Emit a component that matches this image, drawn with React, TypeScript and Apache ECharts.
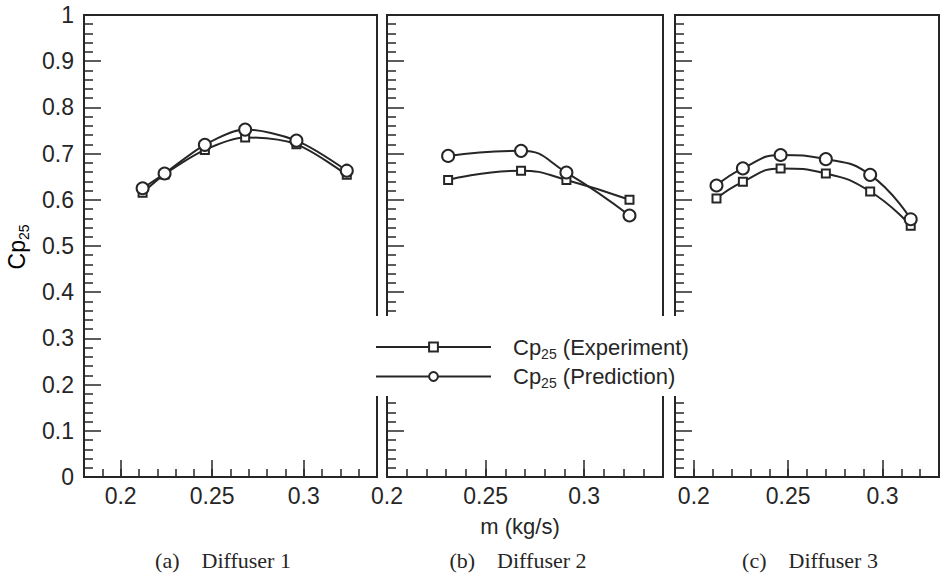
import { useEffect, useRef } from 'react';
import * as echarts from 'echarts';

// Diffuser 1
const massFlow1 = [0.212, 0.224, 0.246, 0.268, 0.296, 0.3235];
const experiment1 = [0.615, 0.655, 0.708, 0.735, 0.72, 0.654];
const prediction1 = [0.625, 0.657, 0.719, 0.752, 0.728, 0.663];

// Diffuser 2
const massFlow2 = [0.231, 0.268, 0.291, 0.323];
const experiment2 = [0.643, 0.663, 0.643, 0.6];
const prediction2 = [0.695, 0.706, 0.659, 0.566];

// Diffuser 3
const massFlow3 = [0.212, 0.226, 0.246, 0.27, 0.2935, 0.315];
const experiment3 = [0.603, 0.639, 0.668, 0.657, 0.618, 0.544];
const prediction3 = [0.631, 0.668, 0.697, 0.688, 0.654, 0.558];

const xMajorTicks = [0.2, 0.25, 0.3];
const captions = ['(a)\u2003Diffuser 1', '(b)\u2003Diffuser 2', '(c)\u2003Diffuser 3'];
const expName = 'Cp25 (Experiment)';
const predName = 'Cp25 (Prediction)';

const INK = '#262626';
const SANS = '"Liberation Sans", Arial, Helvetica, sans-serif';
const SERIF = '"Liberation Serif", "Times New Roman", serif';

const panels = [
  { left: 84, width: 293, min: 0.18, max: 0.34, x: massFlow1, exp: experiment1, pred: prediction1, smooth: 0.3, cx: 223 },
  { left: 387, width: 276, min: 0.2, max: 0.34, x: massFlow2, exp: experiment2, pred: prediction2, smooth: 0.5, cx: 518 },
  { left: 675, width: 276, min: 0.19, max: 0.33, x: massFlow3, exp: experiment3, pred: prediction3, smooth: 0.5, cx: 810 },
];

const TOP = 15;
const HEIGHT = 462;

const pairs = (xs: number[], ys: number[]) => xs.map((v, i) => [v, ys[i]]);

const fmtMajor = (v: number) => {
  const k = v * 20;
  if (Math.abs(k - Math.round(k)) > 1e-6) return '';
  return String(parseFloat(v.toFixed(2)));
};

const subRich = (size: number, sub: number) => ({
  b: { fontFamily: SANS, fontSize: size, color: INK, lineHeight: size + 5 },
  s: { fontFamily: SANS, fontSize: sub, color: INK, lineHeight: sub + 1, verticalAlign: 'bottom' },
});

export default function App() {
  const ref = useRef<HTMLDivElement>(null);

  useEffect(() => {
    if (!ref.current) return;
    const chart = echarts.init(ref.current, undefined, { renderer: 'svg' });

    const grids = panels.map((p) => ({
      left: p.left,
      top: TOP,
      width: p.width,
      height: HEIGHT,
      show: true,
      borderColor: INK,
      borderWidth: 2,
      backgroundColor: 'transparent',
    }));

    const xAxes: any[] = [];
    panels.forEach((p, i) => {
      // minor ticks every 0.01 and the labels
      xAxes.push({
        type: 'value',
        gridIndex: i,
        position: 'bottom',
        min: p.min,
        max: p.max,
        interval: 0.01,
        axisLine: { show: true, onZero: false, lineStyle: { color: INK, width: 2 } },
        axisTick: { show: true, inside: true, length: 8, lineStyle: { color: INK, width: 1.5 } },
        axisLabel: {
          show: true,
          formatter: fmtMajor,
          color: INK,
          fontFamily: SANS,
          fontSize: 23,
          margin: 7,
        },
        splitLine: { show: false },
      });
      // major ticks
      xAxes.push({
        type: 'value',
        gridIndex: i,
        position: 'bottom',
        min: p.min,
        max: p.max,
        axisLine: { show: false },
        axisTick: {
          show: true,
          inside: true,
          length: 17,
          customValues: xMajorTicks,
          lineStyle: { color: INK, width: 1.5 },
        },
        axisLabel: { show: false },
        splitLine: { show: false },
      });
    });

    const yAxes = panels.map((_, i) => ({
      type: 'value',
      gridIndex: i,
      min: 0,
      max: 1,
      interval: 0.1,
      axisLine: { show: true, onZero: false, lineStyle: { color: INK, width: 2 } },
      axisTick: { show: true, inside: true, length: 17, lineStyle: { color: INK, width: 1.5 } },
      minorTick: { show: true, splitNumber: 5, length: 9, lineStyle: { color: INK, width: 1.5 } },
      axisLabel: {
        show: i === 0,
        color: INK,
        fontFamily: SANS,
        fontSize: 23,
        margin: 10,
      },
      splitLine: { show: false },
      minorSplitLine: { show: false },
    }));

    const series: any[] = [];
    panels.forEach((p, i) => {
      series.push({
        name: expName,
        type: 'line',
        xAxisIndex: i * 2,
        yAxisIndex: i,
        data: pairs(p.x, p.exp),
        smooth: p.smooth,
        symbol: 'emptyRect',
        symbolSize: 8,
        itemStyle: { color: INK, borderWidth: 1.5 },
        lineStyle: { color: INK, width: 2 },
        z: 3,
      });
      series.push({
        name: predName,
        type: 'line',
        xAxisIndex: i * 2,
        yAxisIndex: i,
        data: pairs(p.x, p.pred),
        smooth: p.smooth,
        symbol: 'emptyCircle',
        symbolSize: 12,
        itemStyle: { color: INK, borderWidth: 1.5 },
        lineStyle: { color: INK, width: 2 },
        z: 3,
      });
    });

    const graphic: any[] = [
      {
        type: 'text',
        x: 17,
        y: 247,
        rotation: Math.PI / 2,
        style: {
          text: '{b|Cp}{s|25}',
          rich: subRich(23, 14),
          align: 'center',
          verticalAlign: 'middle',
        },
      },
      {
        type: 'text',
        x: 520,
        y: 526,
        style: {
          text: 'm (kg/s)',
          fontFamily: SANS,
          fontSize: 22,
          fill: INK,
          align: 'center',
          verticalAlign: 'middle',
        },
      },
      ...panels.map((p, i) => ({
        type: 'text',
        x: p.cx,
        y: 560,
        style: {
          text: captions[i],
          fontFamily: SERIF,
          fontSize: 22,
          fill: INK,
          align: 'center',
          verticalAlign: 'middle',
        },
      })),
    ];

    chart.setOption({
      animation: false,
      backgroundColor: '#fff',
      grid: grids,
      xAxis: xAxes,
      yAxis: yAxes,
      series,
      graphic,
      legend: {
        orient: 'vertical',
        left: 370,
        top: 316,
        padding: [20, 4, 6, 5],
        backgroundColor: '#fff',
        itemWidth: 115,
        itemHeight: 11,
        itemGap: 5,
        selectedMode: false,
        data: [expName, predName],
        formatter: (name: string) =>
          '{b|Cp}{s|25}{b|' + name.replace('Cp25', '') + '}',
        textStyle: {
          padding: [0, 0, 0, 17],
          rich: subRich(22, 14),
        },
      },
    });

    return () => chart.dispose();
  }, []);

  return (
    <div
      ref={ref}
      style={{ position: 'fixed', left: 0, top: 0, width: 942, height: 575, background: '#fff' }}
    />
  );
}
